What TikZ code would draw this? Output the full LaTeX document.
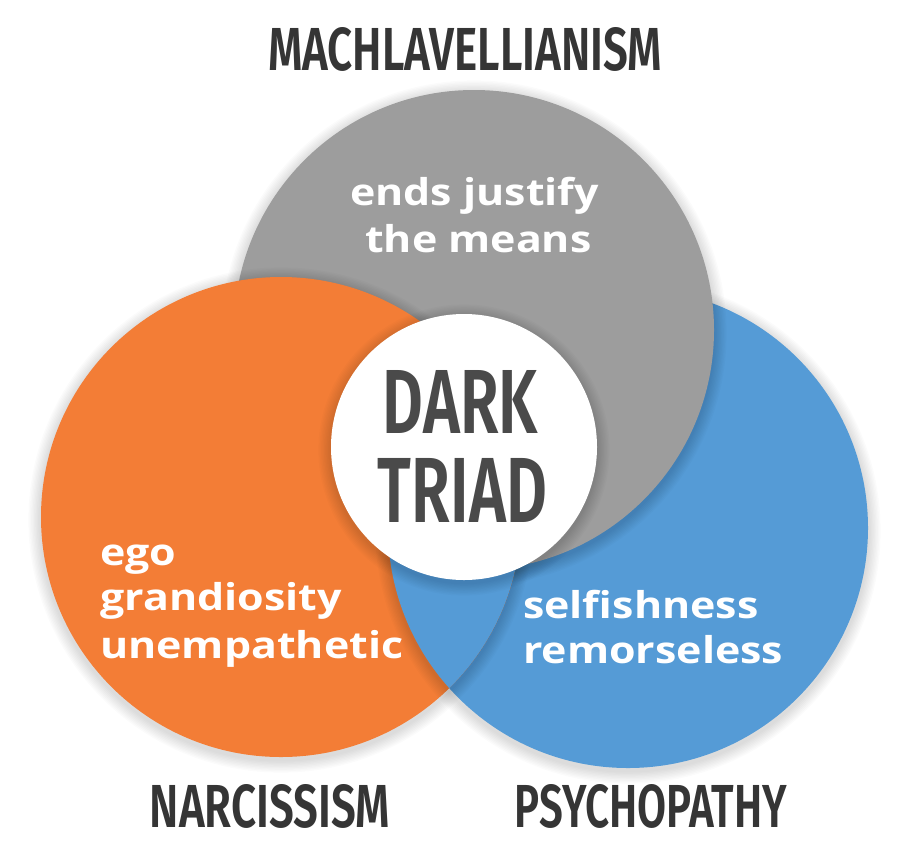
\documentclass[tikz,border=0pt]{standalone}
\usepackage{fontspec}
\setmainfont{Open Sans}
\newfontfamily\blobfont[FakeStretch=1.16]{Open Sans}
\IfFontExistsTF{Fira Sans SemiBold}
  {\newfontfamily\headfont{Fira Sans SemiBold}}
  {\newfontfamily\headfont{Fira Sans}}
\usetikzlibrary{positioning}

\definecolor{machgray}{HTML}{9D9D9D}
\definecolor{narcorange}{HTML}{F37D36}
\definecolor{psychblue}{HTML}{559BD6}
\definecolor{headgray}{HTML}{353535}
\definecolor{coregray}{HTML}{4A4A4A}

% soft shadow under a disc: centre, radius
\newcommand\discshadow[2]{%
  \foreach \k in {1,...,9}
    \fill[black,opacity=0.016] ([yshift=-3pt]#1) circle ({#2+1.4*\k});}

\tikzset{
  headline/.style={text=headgray,inner sep=0pt},
  coreline/.style={text=coregray,inner sep=0pt},
  blobline/.style={text=white,inner sep=0pt,anchor=base west,
    font=\blobfont\bfseries\fontsize{37}{46}\selectfont},
}

\begin{document}
\begin{tikzpicture}[x=1pt,y=-1pt]
  \useasboundingbox (0,0) rectangle (915,860);

  \coordinate (mach) at (474,330);
  \coordinate (narc) at (281,517);
  \coordinate (psych) at (628,528);
  \coordinate (core) at (464,447);

  % circles, blue under gray, gray under orange
  \discshadow{psych}{240}
  \fill[psychblue] (psych) circle (240);
  \discshadow{mach}{240}
  \fill[machgray] (mach) circle (240);
  \discshadow{narc}{240}
  \fill[narcorange] (narc) circle (240);
  % blue lies over orange
  \begin{scope}
    \clip (narc) circle (240);
    \discshadow{psych}{240}
    \fill[psychblue] (psych) circle (240);
  \end{scope}
  \discshadow{core}{133}
  \fill[white] (core) circle (133);

  % titles
  \node[headline] (machtitle) at (465,49.5)
    {\resizebox{394pt}{43pt}{\headfont MACHLAVELLIANISM}};
  \node[headline] (narctitle) at (270,806.5)
    {\resizebox{240pt}{43pt}{\headfont NARCISSISM}};
  \node[headline] (psychtitle) at (651,806.5)
    {\resizebox{272pt}{43pt}{\headfont PSYCHOPATHY}};
  \node[coreline] (dark) at (460.5,401.5)
    {\resizebox{155pt}{63pt}{\headfont DARK}};
  \node[coreline] (triad) at (462.5,490)
    {\resizebox{169pt}{64pt}{\headfont TRIAD}};

  % traits
  \node[blobline] (ends) at (350,205) {ends justify};
  \node[blobline] (means) at (365,252) {the means};
  \node[blobline] (ego) at (100,565) {ego};
  \node[blobline] (grand) at (100,610) {grandiosity};
  \node[blobline] (unemp) at (100,658) {unempathetic};
  \node[blobline] (selfish) at (523,618) {selfishness};
  \node[blobline] (remorse) at (523,663) {remorseless};
\end{tikzpicture}
\end{document}
